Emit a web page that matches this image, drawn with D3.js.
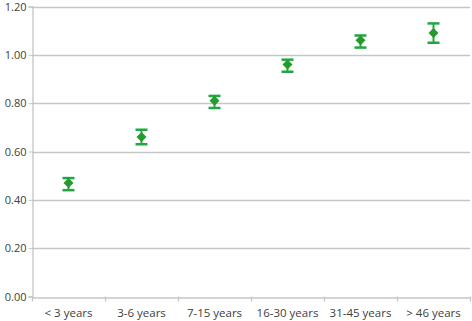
<!DOCTYPE html>
<html><head><meta charset="utf-8">
<script src="https://cdn.jsdelivr.net/npm/d3@7"></script>
<style>body{margin:0;background:#fff}svg{display:block}</style>
</head><body>
<svg id="c" width="472" height="321"></svg>
<script>
const categories = ["< 3 years","3-6 years","7-15 years","16-30 years","31-45 years","> 46 years"];
const means = [0.47,0.66,0.81,0.96,1.06,1.09];
const lower = [0.44,0.63,0.78,0.93,1.03,1.05];
const upper = [0.49,0.69,0.83,0.98,1.08,1.13];
const yTicks = [0,0.2,0.4,0.6,0.8,1.0,1.2];

const svg = d3.select("#c");
const m = {l:32, r:470, t:6.5, b:296.5};
const x = d3.scaleBand().domain(categories).range([m.l, m.r]);
const y = d3.scaleLinear().domain([0,1.2]).range([m.b, m.t]);
const font = "'Open Sans', 'Liberation Sans', sans-serif";
const grid = "#c6c6c6", txt = "#404040", green = "#1fa743", dgreen = "#279a2e";

svg.append("g").selectAll("line").data(yTicks.slice(1)).join("line")
  .attr("x1", m.l).attr("x2", m.r)
  .attr("y1", d=>Math.round(y(d))+0.5).attr("y2", d=>Math.round(y(d))+0.5)
  .attr("stroke", grid).attr("stroke-width",1.3);

const ya = svg.append("g").attr("transform",`translate(${m.l+0.5},0)`)
  .call(d3.axisLeft(y).tickValues(yTicks).tickFormat(d3.format(".2f")).tickSize(4).tickPadding(2));
ya.select(".domain").attr("stroke", grid).attr("stroke-width",1.3);
ya.selectAll(".tick line").attr("stroke", grid);
ya.selectAll("text").attr("fill", txt).style("font-family", font).style("font-size","11px");

const xa = svg.append("g").attr("transform",`translate(0,${Math.round(m.b)+0.5})`)
  .call(d3.axisBottom(x).tickSize(0).tickPadding(11));
xa.select(".domain").attr("stroke", grid).attr("stroke-width",1.3);
xa.selectAll("text").attr("fill", txt).style("font-family", font).style("font-size","11.5px");
const bounds = categories.map(c=>x(c)).concat([m.r]);
svg.append("g").selectAll("line").data(bounds).join("line")
  .attr("x1", d=>Math.round(d)+0.5).attr("x2", d=>Math.round(d)+0.5)
  .attr("y1", m.b).attr("y2", m.b+5).attr("stroke", grid).attr("stroke-width",1.3);

const cx = i => x(categories[i]) + x.bandwidth()/2;
const eb = svg.append("g");
means.forEach((v,i)=>{
  const X = cx(i);
  eb.append("line").attr("x1",X).attr("x2",X).attr("y1",y(upper[i])).attr("y2",y(lower[i]))
    .attr("stroke",green).attr("stroke-width",2);
  [upper[i], lower[i]].forEach(e=>{
    eb.append("line").attr("x1",X-6).attr("x2",X+6).attr("y1",y(e)).attr("y2",y(e))
      .attr("stroke",green).attr("stroke-width",2.5);
  });
  eb.append("path").attr("d", d3.symbol(d3.symbolDiamond2, 64)())
    .attr("transform",`translate(${X},${y(v)})`).attr("fill",dgreen);
});
</script>
</body></html>
